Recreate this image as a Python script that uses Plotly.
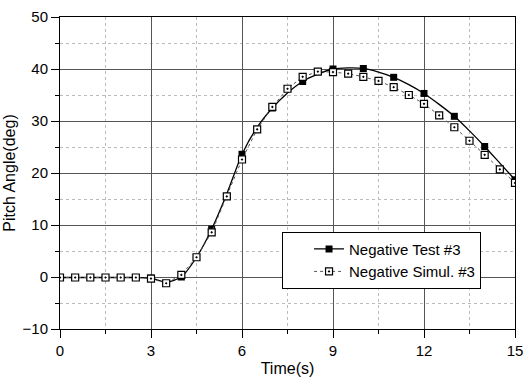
import plotly.graph_objects as go

# Test line (every 0.5 s) and test markers (every 1 s)
test_line_t = [0, 0.5, 1, 1.5, 2, 2.5, 3, 3.5, 4, 4.5, 5, 5.5, 6, 6.5, 7, 7.5,
               8, 8.5, 9, 9.5, 10, 10.5, 11, 11.5, 12, 12.5, 13, 13.5, 14, 14.5, 15]
test_line_v = [-0.1, -0.1, -0.1, -0.1, -0.1, -0.1, -0.2, -1.0, 0.0, 3.8, 9.2, 16.0,
               23.6, 28.8, 32.5, 35.4, 37.6, 39.0, 40.0, 40.2, 40.1, 39.4, 38.4,
               37.0, 35.3, 33.2, 30.9, 28.1, 25.1, 21.9, 18.7]
test_mark_t = [0, 1, 2, 3, 4, 5, 6, 7, 8, 9, 10, 11, 12, 13, 14, 15]
test_mark_v = [-0.1, -0.1, -0.1, -0.2, 0.0, 9.2, 23.6, 32.5, 37.6, 40.0, 40.1,
               38.4, 35.3, 30.9, 25.1, 18.7]

# Simulation (every 0.5 s)
sim_t = test_line_t
sim_v = [-0.1, -0.1, -0.1, -0.1, -0.1, -0.1, -0.3, -1.2, 0.4, 3.8, 8.6, 15.5,
         22.6, 28.4, 32.7, 36.2, 38.5, 39.5, 39.4, 39.1, 38.5, 37.7, 36.5,
         35.0, 33.3, 31.1, 28.8, 26.2, 23.5, 20.7, 18.1]

FONT = "Arial, Liberation Sans, sans-serif"

fig = go.Figure()
fig.add_trace(go.Scatter(x=test_line_t, y=test_line_v, mode="lines",
                         line=dict(color="black", width=1.3, shape="spline", smoothing=0.6),
                         showlegend=False, hoverinfo="skip"))
fig.add_trace(go.Scatter(x=test_mark_t, y=test_mark_v, mode="markers",
                         marker=dict(symbol="square", size=7, color="black"),
                         showlegend=False))
fig.add_trace(go.Scatter(x=[None], y=[None], mode="lines+markers",
                         name="Negative Test #3",
                         line=dict(color="black", width=1.3),
                         marker=dict(symbol="square", size=7, color="black")))
fig.add_trace(go.Scatter(x=sim_t, y=sim_v, mode="lines+markers",
                         name="Negative Simul. #3",
                         line=dict(color="#555", width=1, dash="dot"),
                         marker=dict(symbol="square-dot", size=7, color="white",
                                     line=dict(color="black", width=1.2))))

axis_common = dict(
    showline=True, linecolor="black", linewidth=1, mirror=True,
    ticks="outside", ticklen=8, tickcolor="black", tickwidth=1,
    showgrid=True, gridcolor="#555", gridwidth=1, zeroline=False,
    tickfont=dict(family=FONT, size=15, color="black"),
)

fig.update_xaxes(range=[0, 15], dtick=3, tick0=0,
                 title=dict(text="Time(s)", font=dict(family=FONT, size=16, color="black"), standoff=4),
                 minor=dict(dtick=1.5, ticks="outside", ticklen=4, tickcolor="black",
                            showgrid=True, gridcolor="#bbb", griddash="dot", gridwidth=1),
                 **axis_common)
fig.update_yaxes(range=[-10, 50], dtick=10, tick0=0,
                 title=dict(text="Pitch Angle(deg)", font=dict(family=FONT, size=16, color="black"), standoff=2),
                 minor=dict(dtick=5, ticks="outside", ticklen=4, tickcolor="black",
                            showgrid=True, gridcolor="#bbb", griddash="dot", gridwidth=1),
                 **axis_common)

fig.update_layout(
    width=531, height=382,
    margin=dict(l=60, r=8, t=14, b=50),
    paper_bgcolor="white", plot_bgcolor="white",
    font=dict(family=FONT, color="black"),
    legend=dict(x=0.488, y=0.312, xanchor="left", yanchor="top",
                bgcolor="white", bordercolor="black", borderwidth=1,
                font=dict(family=FONT, size=15, color="black"),
                indentation=26, tracegroupgap=0),
)

fig.write_html("out.html")
